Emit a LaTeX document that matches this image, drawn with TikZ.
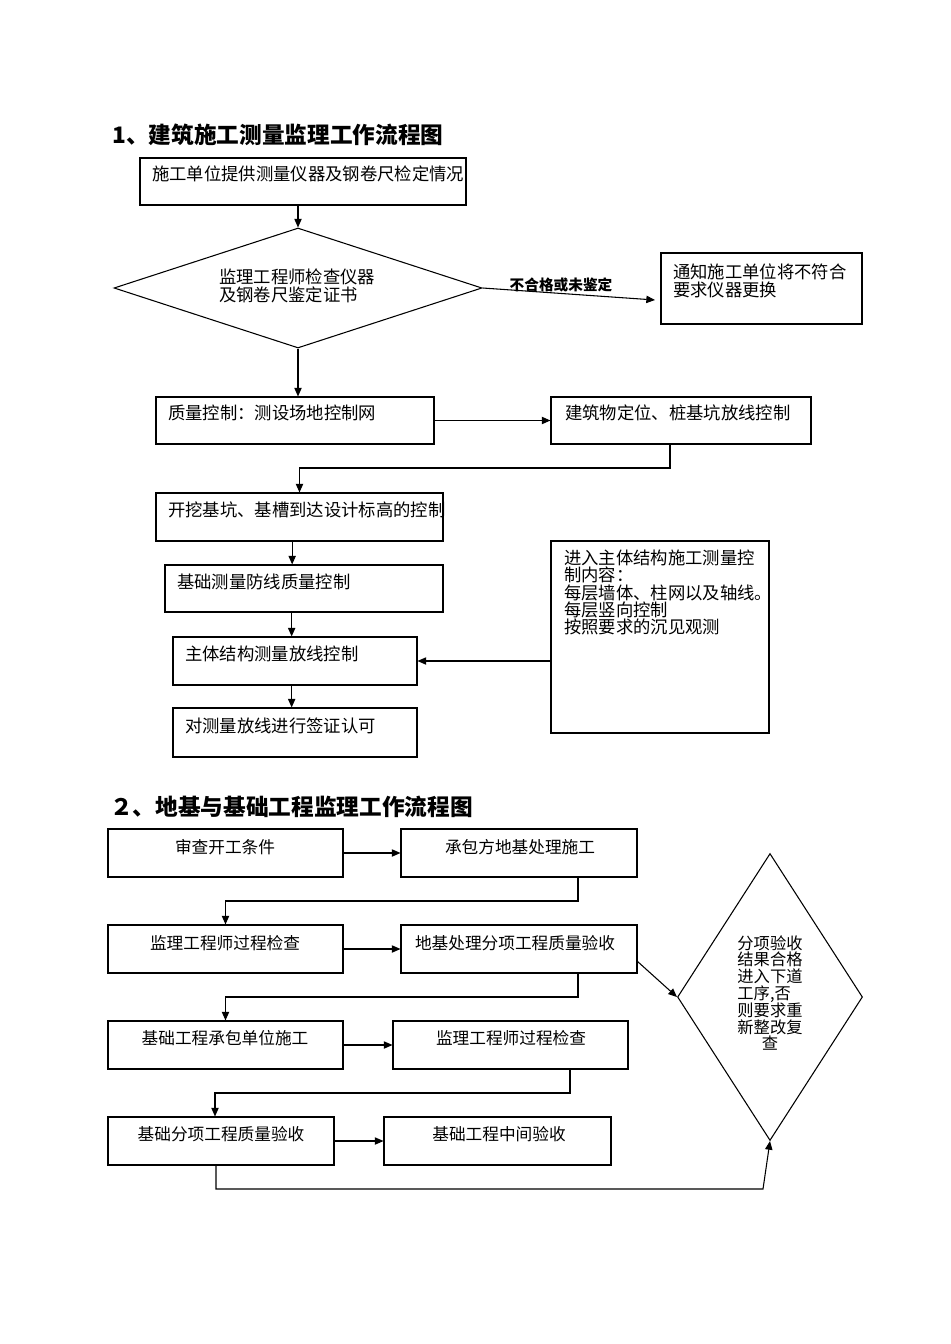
\documentclass[tikz,border=0pt]{standalone}
\usepackage{fontspec}
\newfontfamily\cjk{Noto Sans CJK SC}
\usetikzlibrary{fit,shapes.geometric,arrows.meta}
\begin{document}
\begin{tikzpicture}[x=0.75pt,y=-0.75pt,
  box/.style={draw, line width=0.8pt, inner sep=0pt, fit={#1}},
  arr/.style={draw, line width=0.8pt, -{Triangle[length=6.5pt,width=5.5pt]}},
  ln/.style={draw, line width=0.8pt},
  dia/.style={draw, line width=0.8pt, diamond, inner sep=0pt},
  txa/.style={inner sep=0pt, anchor=west, align=left, font=\cjk\fontsize{13}{13.5}\selectfont},
  txb/.style={inner sep=0pt, anchor=center, align=center, font=\cjk\fontsize{12.5}{13}\selectfont},
  ttl/.style={inner sep=0pt, anchor=west, font=\cjk\bfseries\fontsize{17}{20}\selectfont},
  lbl/.style={inner sep=0pt, anchor=center, font=\cjk\bfseries\fontsize{11}{13}\selectfont}]
\useasboundingbox[fill=white] (0,0) rectangle (950,1344);

% ---------- Section 1 ----------
\node[ttl] (T1) at (112,135) {1、建筑施工测量监理工作流程图};

\node[box={(140,158) (466,205)}] (b1) {};
\node[txa] (b1t) at (152,174) {施工单位提供测量仪器及钢卷尺检定情况};

\node[dia, minimum width=276pt, minimum height=90pt] (d1) at (298,288) {};
\node[txa] (d1t) at (219,286) {监理工程师检查仪器\\及钢卷尺鉴定证书};

\node[box={(661,253) (862,324)}] (b2) {};
\node[txa] (b2t) at (673,281) {通知施工单位将不符合\\要求仪器更换};

\node[box={(156,397) (434,444)}] (b3) {};
\node[txa] (b3t) at (168,413) {质量控制：测设场地控制网};

\node[box={(551,397) (811,444)}] (b4) {};
\node[txa] (b4t) at (565,413) {建筑物定位、桩基坑放线控制};

\node[box={(156,493) (443,541)}] (b5) {};
\node[txa] (b5t) at (168,510) {开挖基坑、基槽到达设计标高的控制};

\node[box={(165,565) (443,612)}] (b6) {};
\node[txa] (b6t) at (177,582) {基础测量防线质量控制};

\node[box={(173,637) (417,685)}] (b7) {};
\node[txa] (b7t) at (185,654) {主体结构测量放线控制};

\node[box={(173,708) (417,757)}] (b8) {};
\node[txa] (b8t) at (185,726) {对测量放线进行签证认可};

\node[box={(551,541) (769,733)}] (b9) {};
\node[txa, font=\cjk\fontsize{13}{12.94}\selectfont] (b9t) at (564,592.5) {进入主体结构施工测量控\\制内容：\\每层墙体、柱网以及轴线。\\每层竖向控制\\按照要求的沉见观测};

\coordinate (n1) at (655,300);
\coordinate (c1) at (670,468);

\draw[arr] (d1.north |- b1.south) -- (d1.north);
\draw[arr] (d1.east) -- (n1);
\node[lbl] (l1) at (561,285) {不合格或未鉴定};
\draw[arr] (d1.south) -- (d1.south |- b3.north);
\draw[arr] (b3.east) -- (b4.west);
\draw[arr] (c1 |- b4.south) -- (c1) -- (c1 -| b5.north) -- (b5.north);
\draw[arr] ([xshift=-5.5pt]b5.south) -- ([xshift=-5.5pt]b5.south |- b6.north);
\draw[arr] ([xshift=-2.5pt]b7.north |- b6.south) -- ([xshift=-2.5pt]b7.north);
\draw[arr] ([xshift=-2.5pt]b7.south) -- ([xshift=-2.5pt]b8.north);
\draw[arr] (b9.west |- b7.east) -- (b7.east);

% ---------- Section 2 ----------
\node[ttl] (T2) at (110,807) {２、地基与基础工程监理工作流程图};

\node[box={(108,829) (343,877)}] (A) {};
\node[txb] (At) at (225,847) {审查开工条件};
\node[box={(401,829) (637,877)}] (B) {};
\node[txb] (Bt) at (520,847) {承包方地基处理施工};

\node[box={(108,925) (343,973)}] (C) {};
\node[txb] (Ct) at (225,943) {监理工程师过程检查};
\node[box={(401,925) (637,973)}] (D) {};
\node[txb] (Dt) at (515,943) {地基处理分项工程质量验收};

\node[box={(108,1021) (343,1069)}] (E) {};
\node[txb] (Et) at (225,1038) {基础工程承包单位施工};
\node[box={(393,1021) (628,1069)}] (F) {};
\node[txb] (Ft) at (511,1038) {监理工程师过程检查};

\node[box={(108,1117) (334,1165)}] (G) {};
\node[txb] (Gt) at (221,1134) {基础分项工程质量验收};
\node[box={(384,1117) (611,1165)}] (H) {};
\node[txb] (Ht) at (499,1134) {基础工程中间验收};

\node[dia, minimum width=138.75pt, minimum height=215.25pt] (Q) at (770,997) {};
\node[txb, font=\cjk\fontsize{12.2}{12.6}\selectfont] (Qt) at (770,993) {分项验收\\结果合格\\进入下道\\\makebox[4em][l]{工序,否}\\则要求重\\新整改复\\查};

\coordinate (c2) at (578,901);
\coordinate (c3) at (637,961);
\coordinate (c4) at (578,997);
\coordinate (c5) at (570,1093);
\coordinate (c6) at (215,1093);
\coordinate (c7) at (216,1189);
\coordinate (c8) at (763,1189);

\draw[arr] (A.east) -- (B.west);
\draw[arr] (c2 |- B.south) -- (c2) -- (c2 -| C.north) -- (C.north);
\draw[arr] (C.east) -- (D.west);
\draw[arr] (c3) -- (Q.west);
\draw[arr] (c4 |- D.south) -- (c4) -- (c4 -| E.north) -- (E.north);
\draw[arr] (E.east) -- (F.west);
\draw[arr] (c5 |- F.south) -- (c5) -- (c6) -- (c6 |- G.north);
\draw[arr] (G.east) -- (H.west);
\draw[arr] (c7 |- G.south) -- (c7) -- (c8) -- (Q.south);
\end{tikzpicture}
\end{document}
